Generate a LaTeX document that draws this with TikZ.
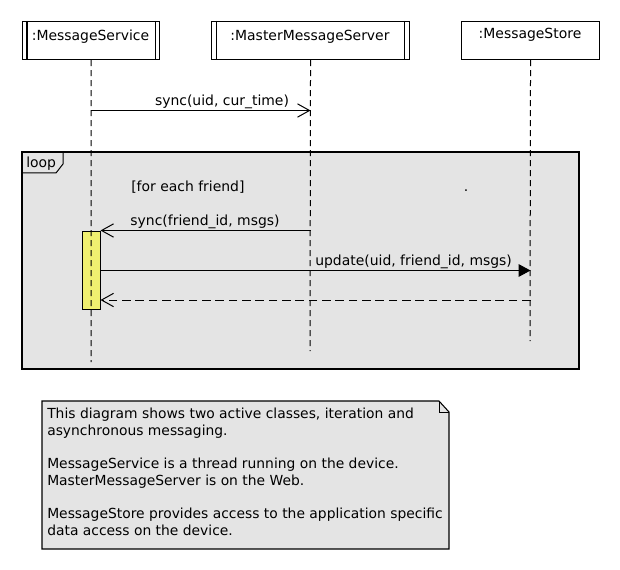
\documentclass[tikz,border=0pt]{standalone}
\usepackage{fontspec}
\setmainfont{DejaVu Sans}
\usetikzlibrary{arrows.meta}
\definecolor{framegrey}{RGB}{228,228,228}
\definecolor{actyellow}{RGB}{240,240,112}
\tikzset{
  lbl/.style={font=\fontsize{10.45}{12}\selectfont, inner sep=0pt},
  headbox/.style={draw, line width=0.8pt, minimum height=38*0.75pt, inner sep=0pt, anchor=north west},
  lifeline/.style={line width=0.75pt, dash pattern=on 4.5pt off 3pt},
  msg/.style={line width=0.75pt},
  openhead/.style={-{Straight Barb[length=9pt, width=10pt, line width=0.75pt]}},
  fullhead/.style={-{Triangle[length=9pt, width=9.5pt]}},
  retmsg/.style={line width=0.75pt, dash pattern=on 6.5pt off 3.5pt},
}
\begin{document}
\begin{tikzpicture}[x=0.75pt, y=-0.75pt]
\useasboundingbox (0,0) rectangle (620,570);
% loop frame
\draw[fill=framegrey, line width=0.8pt] (22,152) rectangle (579,369);
\draw[line width=0.75pt] (22,173) -- (56,173) -- (63,164) -- (63,152);
\node[lbl, anchor=base west] (looplbl) at (26,168) {loop};
% lifeline heads
\node[headbox, minimum width=137*0.75pt] (ms) at (22,21) {};
\draw[line width=0.8pt] ([xshift=5*0.75pt]ms.north west) -- ([xshift=5*0.75pt]ms.south west)
      ([xshift=-5*0.75pt]ms.north east) -- ([xshift=-5*0.75pt]ms.south east);
\node[lbl, anchor=base] (mstxt) at (90.5,41) {:MessageService};
\node[headbox, minimum width=198*0.75pt] (mms) at (211,21) {};
\draw[line width=0.8pt] ([xshift=5.5*0.75pt]mms.north west) -- ([xshift=5.5*0.75pt]mms.south west)
      ([xshift=-5.5*0.75pt]mms.north east) -- ([xshift=-5.5*0.75pt]mms.south east);
\node[lbl, anchor=base] (mmstxt) at (310,41) {:MasterMessageServer};
\node[headbox, minimum width=138*0.75pt] (mst) at (461,21) {};
\node[lbl, anchor=base] (msttxt) at (530,39) {:MessageStore};
% lifeline ends
\coordinate (e1) at (91,362);
\coordinate (e2) at (310,351);
\coordinate (e3) at (530,341);
% activation
\node[draw, fill=actyellow, line width=0.75pt, minimum width=18*0.75pt, minimum height=78*0.75pt, inner sep=0pt, anchor=north west] (act) at (81.5,231) {};
% lifelines
\draw[lifeline] (ms.south) -- (e1);
\draw[lifeline] (mms.south) -- (e2);
\draw[lifeline] (mst.south) -- (e3);
% guards
\node[lbl, anchor=base west] (guard) at (131,191) {[for each friend]};
\node[lbl, anchor=base] (dot) at (466,192) {.};
% messages
\coordinate (s1a) at (ms.south |- 0,110.5);
\coordinate (s1b) at (mms.south |- 0,110.5);
\draw[msg, openhead] (s1a) -- (s1b);
\node[lbl, anchor=base] (s1lbl) at (222,105.5) {sync(uid, cur\_time)};
\coordinate (s2a) at (mms.south |- 0,230.5);
\coordinate (s2b) at (act.east |- 0,230.5);
\draw[msg, openhead] (s2a) -- (s2b);
\node[lbl, anchor=base] (s2lbl) at (205,225.5) {sync(friend\_id, msgs)};
\coordinate (s3a) at (act.east |- 0,270.5);
\coordinate (s3b) at (mst.south |- 0,270.5);
\draw[msg, fullhead] (s3a) -- (s3b);
\node[lbl, anchor=base west] (s3lbl) at (315,265.5) {update(uid, friend\_id, msgs)};
\coordinate (s4a) at (mst.south |- 0,300);
\coordinate (s4b) at (act.east |- 0,300);
\draw[retmsg, openhead] (s4a) -- (s4b);
% note
\draw[fill=framegrey, line width=0.8pt] (42,401) -- (439,401) -- (449,412) -- (449,549) -- (42,549) -- cycle;
\draw[line width=0.75pt] (439,401) -- (439,412) -- (449,412);
\node[anchor=north west, inner sep=0pt, align=left, font=\fontsize{10.4}{12.45}\selectfont] (note) at (47,408)
{This diagram shows two active classes, iteration and\\
asynchronous messaging.\\
\mbox{}\\
MessageService is a thread running on the device.\\
MasterMessageServer is on the Web.\\
\mbox{}\\
MessageStore provides access to the application specific\\
data access on the device.};
\end{tikzpicture}
\end{document}
